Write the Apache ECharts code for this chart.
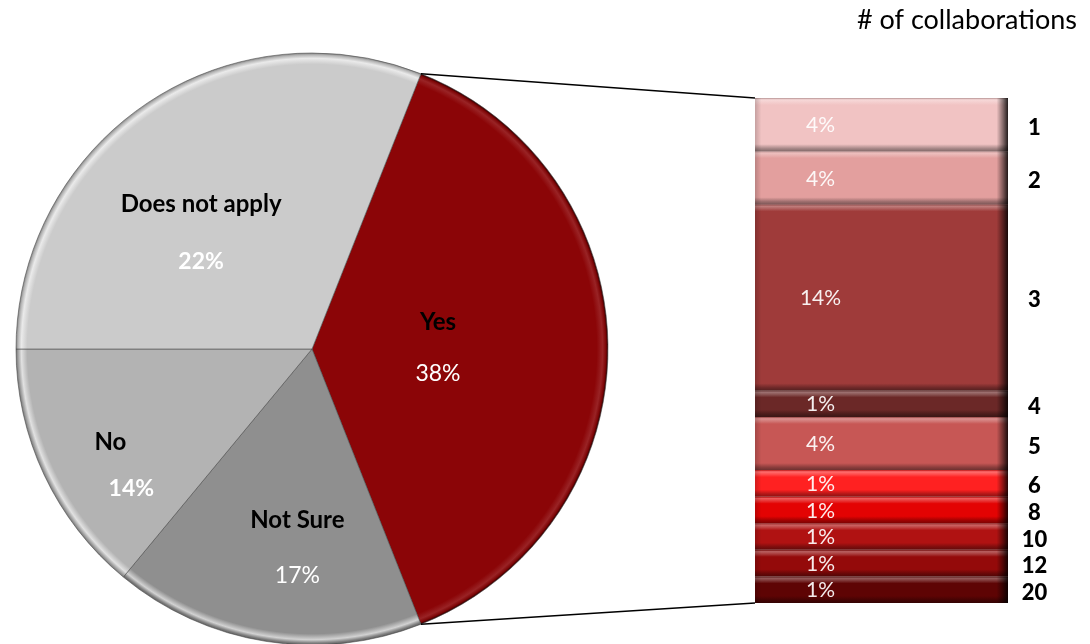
<!DOCTYPE html>
<html>
<head>
<meta charset="utf-8">
<script src="https://cdn.jsdelivr.net/npm/echarts@6/dist/echarts.min.js"></script>
<style>
  html, body { margin: 0; padding: 0; background: #fff; }
  #main { width: 1090px; height: 644px; }
</style>
</head>
<body>
<div id="main"></div>
<script>
// ---- data ----
const pieNames = ['Yes', 'Not Sure', 'No', 'Does not apply'];
const pieValues = [38, 17, 14, 31];
const pieLabels = ['38%', '17%', '14%', '22%'];

const barCats = ['1', '2', '3', '4', '5', '6', '8', '10', '12', '20'];
const barValues = [4, 4, 14, 2, 4, 2, 2, 2, 2, 2];
const barLabels = ['4%', '4%', '14%', '1%', '4%', '1%', '1%', '1%', '1%', '1%'];

const chartTitle = '# of collaborations';

// ---- styles ----
const FONT = 'Lato, "Open Sans", sans-serif';
const pieColors = ['#8B0507', '#8F8F8F', '#B3B3B3', '#CBCBCB'];
const barColors = ['#F1C3C3', '#E39F9E', '#9F3B3A', '#6B2827', '#C75755',
                   '#FF2121', '#E30303', '#B01212', '#940A0A', '#5E0404'];
const PIE_C = [312, 349], PIE_R = 296;
const startAngle = 90 - 21.6;
const GRID = { left: 755, top: 98, width: 253, height: 505 };

function hex(c) { c = c.replace('#', ''); return [0, 2, 4].map(i => parseInt(c.substr(i, 2), 16)); }
function mix(c, t, a) {
  const A = hex(c), B = hex(t);
  return 'rgb(' + A.map((v, i) => Math.round(v + (B[i] - v) * a)).join(',') + ')';
}

// pie per-item label tweaks (offset from inside anchor, line height, value weight)
const pieLabelStyle = [
  { offset: [-25, -1], lh: 52, vw: 'normal', pad: 0 },
  { offset: [9, 50], lh: 55, vw: 'normal', pad: 0 },
  { offset: [-44, 52], lh: 46, vw: 'bold', pad: 42 },
  { offset: [-26, 9], lh: 57, vw: 'bold', pad: 0 }
];

const pieData = pieNames.map((n, i) => {
  const base = pieColors[i];
  const hl = i === 0 ? mix(base, '#ffffff', 0.12) : mix(base, '#ffffff', 0.6);
  const edge = i === 0 ? '#2a0000' : mix(base, '#000000', 0.35);
  const s = pieLabelStyle[i];
  return {
    name: n,
    value: pieValues[i],
    itemStyle: {
      color: {
        type: 'radial', x: PIE_C[0], y: PIE_C[1], r: PIE_R, global: true,
        colorStops: [
          { offset: 0, color: base },
          { offset: 0.962, color: base },
          { offset: 0.982, color: hl },
          { offset: 0.993, color: mix(base, '#000000', 0.1) },
          { offset: 1, color: edge }
        ]
      }
    },
    label: {
      offset: s.offset,
      formatter: '{n|' + n + '}\n{v|' + pieLabels[i] + '}',
      rich: {
        n: { fontFamily: FONT, fontSize: 24, fontWeight: 'bold', color: '#000', lineHeight: s.lh, padding: [0, s.pad, 0, 0] },
        v: { fontFamily: FONT, fontSize: 23, fontWeight: s.vw, color: '#fff', lineHeight: s.lh }
      }
    }
  };
});

const total = barValues.reduce((a, b) => a + b, 0);

// stacked bar series, bottom first
const barSeries = [];
const overlaySeries = [];
for (let k = barCats.length - 1; k >= 0; k--) {
  const base = barColors[k];
  const h = barValues[k] / total * GRID.height;
  const b = Math.min(7 / h, 0.3);
  barSeries.push({
    type: 'bar', stack: 'seg', name: barCats[k],
    barWidth: '100%', barGap: '-100%',
    data: [barValues[k]],
    itemStyle: {
      color: {
        type: 'linear', x: 0, y: 0, x2: 0, y2: 1,
        colorStops: [
          { offset: 0, color: mix(base, '#000000', 0.25) },
          { offset: b * 0.25, color: mix(base, '#ffffff', 0.35) },
          { offset: b * 0.6, color: mix(base, '#ffffff', 0.2) },
          { offset: b, color: base },
          { offset: 1 - b, color: base },
          { offset: 1 - b * 0.4, color: mix(base, '#000000', 0.3) },
          { offset: 1, color: mix(base, '#000000', 0.45) }
        ]
      }
    },
    label: {
      show: true, position: 'inside', offset: [-36, 1],
      formatter: '{p|' + barLabels[k] + '}{n|' + barCats[k] + '}',
      rich: {
        p: { width: 378, align: 'center', fontFamily: FONT, fontSize: 21, color: 'rgba(255,255,255,0.92)', lineHeight: 26, verticalAlign: 'middle' },
        n: { width: 50, align: 'left', fontFamily: FONT, fontSize: 22, fontWeight: 900, color: '#000', lineHeight: 26, verticalAlign: 'middle', padding: [4, 0, 0, 0] }
      }
    }
  });
  overlaySeries.push({
    type: 'bar', stack: 'ov', name: barCats[k] + ' ',
    barWidth: '100%', barGap: '-100%',
    data: [barValues[k]],
    silent: true,
    itemStyle: {
      color: {
        type: 'linear', x: 0, y: 0, x2: 1, y2: 0,
        colorStops: [
          { offset: 0, color: 'rgba(0,0,0,0.18)' },
          { offset: 0.025, color: 'rgba(0,0,0,0)' },
          { offset: 0.955, color: 'rgba(0,0,0,0)' },
          { offset: 0.98, color: 'rgba(0,0,0,0.45)' },
          { offset: 1, color: 'rgba(0,0,0,0.85)' }
        ]
      }
    },
    label: { show: false }
  });
}

const chart = echarts.init(document.getElementById('main'), null, { renderer: 'canvas' });
chart.setOption({
  animation: false,
  backgroundColor: '#ffffff',
  title: {
    text: chartTitle, right: 8, top: 2,
    textStyle: { fontFamily: FONT, fontSize: 27, fontWeight: 'normal', color: '#000' }
  },
  grid: { left: GRID.left, top: GRID.top, width: GRID.width, height: GRID.height },
  xAxis: { type: 'category', data: [''], show: false, boundaryGap: true },
  yAxis: { type: 'value', min: 0, max: total, show: false },
  series: [
    {
      type: 'pie', center: PIE_C, radius: [0, PIE_R],
      startAngle: startAngle, clockwise: true,
      label: { show: true, position: 'inside' },
      labelLine: { show: false },
      itemStyle: { borderColor: 'rgba(70,70,70,0.55)', borderWidth: 1 },
      emphasis: { disabled: true },
      data: pieData
    }
  ].concat(barSeries).concat(overlaySeries)
});

// connector lines from the "Yes" slice edges to the bar's top/bottom
const yesFrac = pieValues[0] / pieValues.reduce((a, b) => a + b, 0);
const a1 = (90 - startAngle) * Math.PI / 180;
const a2 = a1 + yesFrac * 2 * Math.PI;
const p1 = [PIE_C[0] + PIE_R * Math.sin(a1), PIE_C[1] - PIE_R * Math.cos(a1)];
const p2 = [PIE_C[0] + PIE_R * Math.sin(a2), PIE_C[1] - PIE_R * Math.cos(a2)];
const yTop = chart.convertToPixel({ gridIndex: 0 }, [0, total])[1];
const yBot = chart.convertToPixel({ gridIndex: 0 }, [0, 0])[1];
chart.setOption({
  graphic: [
    { type: 'line', z: 50, shape: { x1: p1[0], y1: p1[1], x2: GRID.left, y2: yTop }, style: { stroke: '#000', lineWidth: 1.6 } },
    { type: 'line', z: 50, shape: { x1: p2[0], y1: p2[1], x2: GRID.left, y2: yBot }, style: { stroke: '#000', lineWidth: 1.6 } }
  ]
});
</script>
</body>
</html>
